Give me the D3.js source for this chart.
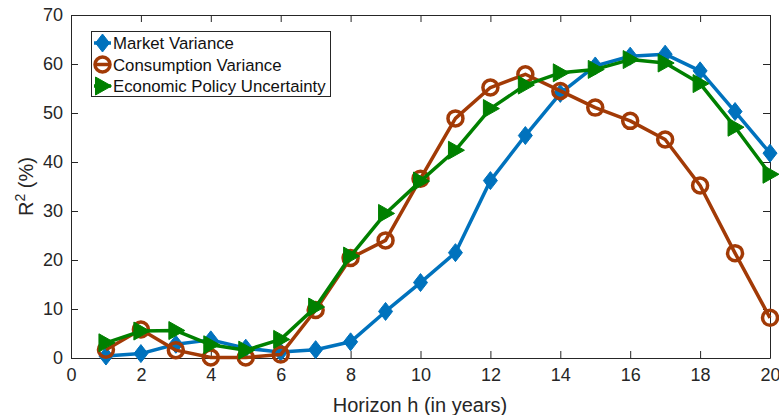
<!DOCTYPE html>
<html>
<head>
<meta charset="utf-8">
<script src="https://cdn.jsdelivr.net/npm/d3@7"></script>
<style>
  body { margin: 0; background: #fff; }
  svg { display: block; font-family: "Liberation Sans", Arial, sans-serif; }
</style>
</head>
<body>
<svg id="chart" width="779" height="415"></svg>
<script>
// horizon in years
var horizons = d3.range(1, 21);

// R^2 (%) per horizon
var marketVariance = [0.4, 0.9, 2.8, 3.7, 2.0, 1.2, 1.7, 3.3, 9.5, 15.4,
  21.5, 36.2, 45.4, 54.0, 59.6, 61.6, 62.0, 58.6, 50.3, 41.8];
var consumptionVariance = [1.7, 5.8, 1.6, 0.1, 0.1, 0.7, 9.8, 20.4, 24.0, 36.6,
  48.9, 55.2, 57.9, 54.5, 51.1, 48.4, 44.6, 35.2, 21.4, 8.2];
var policyUncertainty = [3.1, 5.5, 5.6, 2.7, 1.6, 3.8, 10.4, 20.8, 29.5, 36.1,
  42.4, 50.9, 55.7, 58.2, 58.9, 60.9, 60.2, 56.0, 47.1, 37.5];

var seriesNames = ['Market Variance', 'Consumption Variance', 'Economic Policy Uncertainty'];
var xTicks = d3.range(0, 21, 2);
var yTicks = d3.range(0, 71, 10);

var Chart = {
  LEFT: 71, RIGHT: 770, TOP: 15, BOTTOM: 358,
  COLORS: ['#0072BD', '#A23A06', '#008000'],

  draw: function() {
    var svg = d3.select('#chart');
    var x = d3.scaleLinear().domain([0, 20]).range([Chart.LEFT, Chart.RIGHT]);
    var y = d3.scaleLinear().domain([0, 70]).range([Chart.BOTTOM, Chart.TOP]);

    // axes, matlab style with ticks pointing in on all four sides
    var axisColor = '#262626';
    var tl = 7;
    var gx = svg.append('g').attr('transform', 'translate(0,' + Chart.BOTTOM + ')')
      .call(d3.axisBottom(x).tickValues(xTicks).tickSizeInner(-tl).tickSizeOuter(0).tickPadding(12));
    var gx2 = svg.append('g').attr('transform', 'translate(0,' + Chart.TOP + ')')
      .call(d3.axisTop(x).tickValues(xTicks).tickSizeInner(-tl).tickSizeOuter(0).tickFormat(''));
    var gy = svg.append('g').attr('transform', 'translate(' + Chart.LEFT + ',0)')
      .call(d3.axisLeft(y).tickValues(yTicks).tickSizeInner(-tl).tickSizeOuter(0).tickPadding(8));
    var gy2 = svg.append('g').attr('transform', 'translate(' + Chart.RIGHT + ',0)')
      .call(d3.axisRight(y).tickValues(yTicks).tickSizeInner(-tl).tickSizeOuter(0).tickFormat(''));

    [gx, gx2, gy, gy2].forEach(function(g) {
      g.selectAll('path, line').attr('stroke', axisColor).attr('stroke-width', 1);
      g.selectAll('text').attr('fill', axisColor).style('font-size', '18px').style('font-family', 'inherit');
    });
    gx.selectAll('text').attr('dy', '0.6em');

    svg.append('text')
      .attr('x', 420).attr('y', 412)
      .attr('text-anchor', 'middle').attr('fill', axisColor)
      .style('font-size', '20px')
      .text('Horizon h (in years)');

    var yl = svg.append('text')
      .attr('transform', 'translate(33,' + (Chart.TOP + Chart.BOTTOM) / 2 + ') rotate(-90)')
      .attr('text-anchor', 'middle').attr('fill', axisColor)
      .style('font-size', '20px');
    yl.append('tspan').text('R');
    yl.append('tspan').attr('dy', -8).style('font-size', '14px').text('2');
    yl.append('tspan').attr('dy', 8).text(' (%)');

    var all = [marketVariance, consumptionVariance, policyUncertainty];
    var line = d3.line()
      .x(function(d, i) { return x(horizons[i]); })
      .y(function(d) { return y(d); });

    all.forEach(function(vals, k) {
      var g = svg.append('g');
      g.append('path').datum(vals)
        .attr('d', line)
        .attr('fill', 'none')
        .attr('stroke', Chart.COLORS[k])
        .attr('stroke-width', 3.5)
        .attr('stroke-linejoin', 'round');
      g.selectAll('.m').data(vals).enter()
        .append('path')
        .attr('transform', function(d, i) { return 'translate(' + x(horizons[i]) + ',' + y(d) + ')'; })
        .each(function() { Chart.marker(d3.select(this), k); });
    });

    Chart.legend(svg);
  },

  // diamond / open circle / right triangle
  marker: function(sel, k) {
    var c = Chart.COLORS[k];
    if (k === 0) {
      sel.attr('d', 'M0,-9L7,0L0,9L-7,0Z').attr('fill', c).attr('stroke', c).attr('stroke-width', 1);
    } else if (k === 1) {
      sel.attr('d', d3.symbol().type(d3.symbolCircle).size(Math.PI * 7.5 * 7.5)())
        .attr('fill', 'none').attr('stroke', c).attr('stroke-width', 3.5);
    } else {
      sel.attr('d', 'M-7,-9L9,0L-7,9Z').attr('fill', c).attr('stroke', c).attr('stroke-width', 1);
    }
  },

  legend: function(svg) {
    var lg = svg.append('g');
    lg.append('rect')
      .attr('x', 91.5).attr('y', 31.5).attr('width', 239).attr('height', 65)
      .attr('fill', '#fff').attr('stroke', '#262626').attr('stroke-width', 1);
    seriesNames.forEach(function(name, k) {
      var cy = 43 + k * 21.5;
      lg.append('line').attr('x1', 94).attr('x2', 111).attr('y1', cy).attr('y2', cy)
        .attr('stroke', Chart.COLORS[k]).attr('stroke-width', 3.5);
      var m = lg.append('path').attr('transform', 'translate(102.5,' + cy + ')');
      Chart.marker(m, k);
      lg.append('text').attr('x', 113).attr('y', cy).attr('dy', '0.36em')
        .attr('fill', '#111').style('font-size', '16.8px').text(name);
    });
  }
};

Chart.draw();
</script>
</body>
</html>
